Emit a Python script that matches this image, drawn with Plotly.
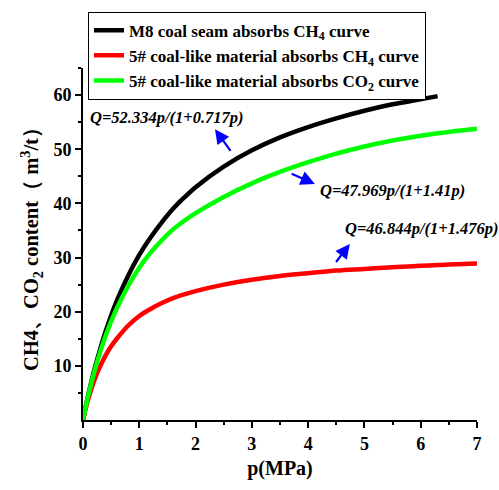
import plotly.graph_objects as go

p_black = [0, 0.05, 0.1, 0.2, 0.3, 0.4, 0.5, 0.6, 0.8, 1.0, 1.2, 1.4, 1.6, 1.8, 2.0, 2.5, 3, 3.5, 4, 4.5, 5, 5.5, 6, 6.3]
q_black = [0, 2.6, 4.9, 9.2, 12.9, 16.3, 19.3, 22.0, 26.6, 30.5, 33.7, 36.5, 39.0, 41.1, 43.0, 46.8, 49.8, 52.2, 54.1, 55.7, 57.1, 58.3, 59.2, 59.8]

p_red = [0, 0.05, 0.1, 0.2, 0.3, 0.4, 0.5, 0.6, 0.8, 1.0, 1.2, 1.4, 1.6, 1.8, 2.0, 2.5, 3, 3.5, 4, 4.5, 5, 5.5, 6, 6.5, 7]
q_red = [0, 2.2, 4.1, 7.3, 9.8, 11.9, 13.6, 15.0, 17.4, 19.2, 20.5, 21.6, 22.5, 23.2, 23.8, 25.0, 25.9, 26.6, 27.1, 27.6, 27.9, 28.2, 28.5, 28.7, 28.9]

p_green = [0, 0.05, 0.1, 0.2, 0.3, 0.4, 0.5, 0.6, 0.8, 1.0, 1.2, 1.4, 1.6, 1.8, 2.0, 2.5, 3, 3.5, 4, 4.5, 5, 5.5, 6, 6.5, 7]
q_green = [0, 2.5, 4.8, 8.9, 12.4, 15.5, 18.2, 20.6, 24.7, 28.1, 30.9, 33.2, 35.2, 36.8, 38.2, 41.2, 43.7, 45.8, 47.6, 49.2, 50.5, 51.6, 52.5, 53.2, 53.8]

names = ["M8 coal seam absorbs CH<sub>4</sub> curve",
         "5# coal-like material absorbs CH<sub>4</sub> curve",
         "5# coal-like material absorbs CO<sub>2</sub> curve"]
eqs = ["Q=52.334p/(1+0.717p)", "Q=47.969p/(1+1.41p)", "Q=46.844p/(1+1.476p)"]

FONT = "Liberation Serif"

fig = go.Figure()
for i, (px, qy, col) in enumerate([(p_black, q_black, "#000000"),
                                   (p_red, q_red, "#FF0000"),
                                   (p_green, q_green, "#00FF00")]):
    fig.add_trace(go.Scatter(x=px, y=qy, mode="lines", name=names[i],
                             line=dict(color=col, width=4.5, shape="spline", smoothing=1.0)))

# arrows (tail -> head) in data coords
arrows = [((2.64, 49.4), (2.345, 53.7)),
          ((3.68, 45.6), (4.12, 43.6)),
          ((4.476, 28.9), (4.74, 32.5))]
for (tx, ty), (hx, hy) in arrows:
    fig.add_annotation(x=hx, y=hy, ax=tx, ay=ty, axref="x", ayref="y", xref="x", yref="y",
                       text="", showarrow=True, arrowhead=2, arrowsize=1.3, arrowwidth=2.2,
                       arrowcolor="#0000FF")

text_pos = [(1.50, 55.9), (5.50, 42.3), (6.02, 35.3)]
for (x, y), t in zip(text_pos, eqs):
    fig.add_annotation(x=x, y=y, xref="x", yref="y", text="<b><i>" + t + "</i></b>",
                       showarrow=False, font=dict(family=FONT, size=16.5, color="black"))

fig.update_layout(
    width=499, height=490,
    margin=dict(l=83, r=22, t=66, b=70),
    plot_bgcolor="white", paper_bgcolor="white",
    font=dict(family=FONT, color="black"),
    showlegend=True,
    legend=dict(x=0.0127, y=1.16, xanchor="left", yanchor="top",
                bgcolor="white", bordercolor="black", borderwidth=1,
                font=dict(family=FONT, size=17, color="black", weight="bold"),
                tracegroupgap=0, itemwidth=30),
    xaxis=dict(range=[0, 7], showgrid=False, zeroline=False,
               showline=True, linecolor="black", linewidth=2,
               ticks="outside", ticklen=6, tickwidth=2, tickcolor="black",
               dtick=1, tickfont=dict(family=FONT, size=18, color="black", weight="bold"),
               minor=dict(ticks="outside", ticklen=3, tickwidth=2, tickcolor="black", dtick=0.5),
               title=dict(text="p(MPa)", font=dict(family=FONT, size=20, weight="bold"), standoff=8)),
    yaxis=dict(range=[0, 65], showgrid=False, zeroline=False,
               showline=True, linecolor="black", linewidth=2,
               ticks="outside", ticklen=6, tickwidth=2, tickcolor="black",
               tickvals=[10, 20, 30, 40, 50, 60],
               tickfont=dict(family=FONT, size=18, color="black", weight="bold"),
               minor=dict(ticks="outside", ticklen=3, tickwidth=2, tickcolor="black",
                          tickvals=[5, 15, 25, 35, 45, 55, 65]),
               title=dict(text="CH4、CO<sub>2</sub> content（ m<sup>3</sup>/t）",
                          font=dict(family=FONT, size=20.5, weight="bold"), standoff=9)),
)

fig.write_html("out.html")
